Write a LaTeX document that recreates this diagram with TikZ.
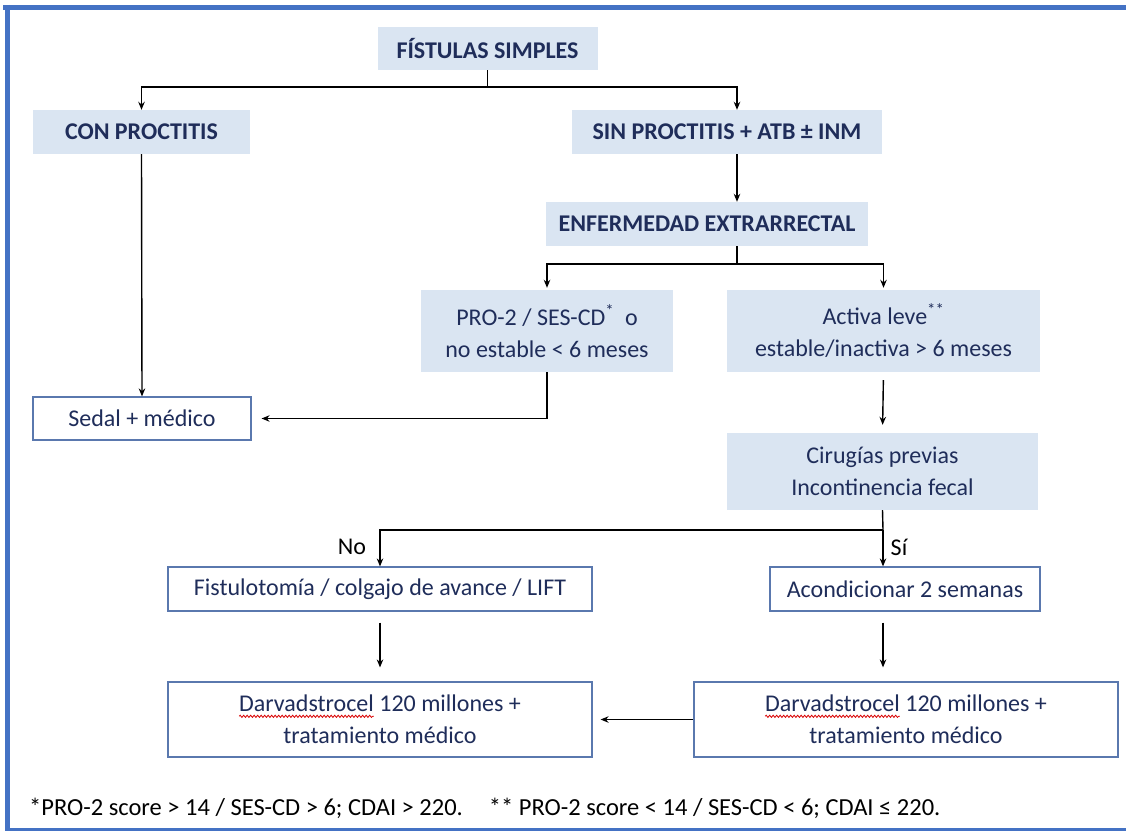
\documentclass[tikz,border=0pt]{standalone}
\usepackage{fontspec}
\setmainfont{Carlito}
\usetikzlibrary{arrows.meta,decorations.pathmorphing}
\definecolor{fillb}{HTML}{DAE5F2}
\definecolor{txt}{HTML}{1F2D5A}
\definecolor{framec}{HTML}{4472C4}
\definecolor{bord}{HTML}{5A78AE}
\newlength\wordw
\newlength\lineaw
\tikzset{
  box/.style={rectangle, inner sep=0pt, text=txt, align=center, font=\fontsize{24}{32}\selectfont},
  fbox/.style={box, fill=fillb},
  hdr/.style={fbox, font=\bfseries\fontsize{24}{30}\selectfont},
  wbox/.style={box, draw=bord, line width=1.2pt, fill=white},
  conn/.style={line width=1.4pt, black},
  arr/.style={conn, -{Stealth[length=8pt,width=6.5pt]}},
  lbl/.style={text=black, font=\fontsize{24}{28}\selectfont, inner sep=0pt},
  spellwave/.style={red!85!black, line width=0.8pt, decorate, decoration={snake, amplitude=1.1pt, segment length=3.5pt}},
}
\begin{document}
\settowidth{\wordw}{\fontsize{24}{32}\selectfont Darvadstrocel}%
\settowidth{\lineaw}{\fontsize{24}{32}\selectfont Darvadstrocel 120 millones +}%
\begin{tikzpicture}[x=1pt,y=-1pt]
\useasboundingbox (0,0) rectangle (1126,832);
\fill[white] (0,0) rectangle (1126,832);
% frame
\draw[framec, line width=5pt] (3,7.5) -- (1126,7.5);
\draw[framec, line width=5pt] (7.5,5) -- (7.5,830);
\draw[framec, line width=2.5pt] (5,829.5) -- (1126,829.5);

% nodes
\node[hdr, minimum width=220, minimum height=43] (top) at (487.5,48.5) {FÍSTULAS SIMPLES};
\node[hdr, minimum width=217, minimum height=44] (con) at (141.5,132) {CON PROCTITIS};
\node[hdr, minimum width=310, minimum height=44] (sin) at (727,132) {SIN PROCTITIS + ATB ± INM};
\node[hdr, minimum width=322, minimum height=44] (enf) at (707,224) {ENFERMEDAD EXTRARRECTAL};
\node[fbox, minimum width=252, minimum height=82] (pro) at (547,331) {PRO-2 / SES-CD\textsuperscript{*}\ \ o\\no estable < 6 meses};
\node[fbox, minimum width=313, minimum height=82] (act) at (883.5,331) {Activa leve\textsuperscript{**}\\estable/inactiva > 6 meses};
\node[wbox, minimum width=218, minimum height=43] (sedal) at (142,418.5) {Sedal + médico};
\node[fbox, minimum width=311, minimum height=77] (cir) at (882.5,471.5) {Cirugías previas\\Incontinencia fecal};
\node[wbox, minimum width=424, minimum height=44] (fis) at (380,589) {Fistulotomía / colgajo de avance / LIFT};
\node[wbox, minimum width=270, minimum height=44] (aco) at (905,589) {Acondicionar 2 semanas};
\node[wbox, minimum width=424, minimum height=75] (dl) at (380,719.5) {Darvadstrocel 120 millones +\\tratamiento médico};
\node[wbox, minimum width=424, minimum height=75] (dr) at (906,719.5) {Darvadstrocel 120 millones +\\tratamiento médico};

% spell-check underlines
\draw[spellwave] ([shift={(-0.5\lineaw,3.2pt)}]dl.center) -- ++(\wordw,0pt);
\draw[spellwave] ([shift={(-0.5\lineaw,3.2pt)}]dr.center) -- ++(\wordw,0pt);

% junction coordinates
\coordinate (j1) at (487.5,87);
\coordinate (j2) at (737,264);
\coordinate (j3) at (883,530);

% connectors
\draw[conn] (top.south) -- (j1);
\draw[arr] (j1) -| (con.north);
\draw[arr] (j1) -| ([xshift=10pt]sin.north);
\draw[arr] ([xshift=10pt]sin.south) -- ([xshift=10pt]sin.south |- enf.north);
\draw[conn] ([xshift=30pt]enf.south) -- (j2);
\draw[arr, shorten >=2pt] (j2) -| (pro.north);
\draw[arr, shorten >=2pt] (j2) -| (act.north);
\draw[arr, shorten >=10pt] (pro.south) |- (sedal.east);
\draw[arr] (con.south) -- (sedal.north);
\draw[arr, shorten <=8pt, shorten >=8pt] (act.south) -- (cir.north);
\draw[conn] (cir.south) -- (j3);
\draw[arr] (j3) -| (fis.north);
\draw[arr] (j3) -- (j3 |- aco.north);
\draw[arr, shorten <=11pt, shorten >=14pt] (fis.south) -- (dl.north);
\draw[arr, shorten <=11pt, shorten >=14pt] (aco.south -| j3) -- (dr.north -| j3);
\draw[arr, shorten >=8pt] (dr.west) -- (dl.east);

% labels
\node[lbl] (no) at (352,547) {No};
\node[lbl] (si) at (899,547) {Sí};

% footnote
\node[lbl, anchor=west] (foot) at (29,808) {\fontsize{24.5}{28}\selectfont *PRO-2 score > 14 / SES-CD > 6; CDAI > 220.\hspace{26pt}** PRO-2 score < 14 / SES-CD < 6; CDAI ≤ 220.};
\end{tikzpicture}
\end{document}
